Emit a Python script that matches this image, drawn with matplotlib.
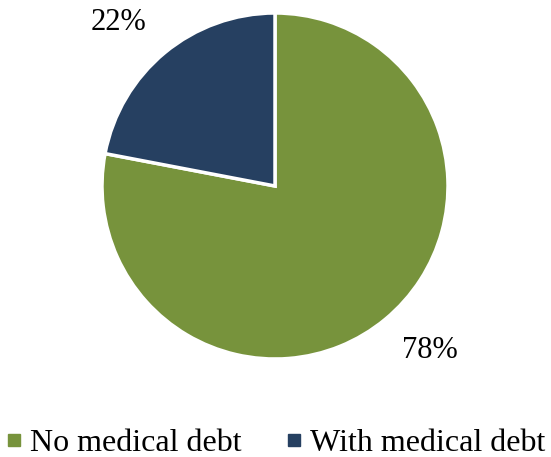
import matplotlib.pyplot as plt
from matplotlib.lines import Line2D

# Share of people with and without medical debt
labels = ["No medical debt", "With medical debt"]
shares = [78, 22]
colors = ["#77933C", "#264061"]

plt.rcParams["font.family"] = ["Liberation Serif", "DejaVu Serif"]

fig = plt.figure(figsize=(5.51, 4.57), dpi=100)
ax = fig.add_axes([0, 0, 1, 1])

ax.pie(
    shares,
    colors=colors,
    startangle=90,
    counterclock=False,
    center=(275, 271),
    radius=173,
    wedgeprops=dict(edgecolor="white", linewidth=2.5),
    frame=True,
)
ax.set_xlim(0, 551)
ax.set_ylim(0, 457)
ax.set_aspect("equal")
ax.axis("off")

# Percentage labels placed outside the slices
ax.text(118, 435, f"{shares[1]}%", fontsize=22, ha="center", va="center")
ax.text(430, 107, f"{shares[0]}%", fontsize=22, ha="center", va="center")

handles = [
    Line2D([], [], marker="s", linestyle="none", markersize=8.5,
           markerfacecolor=c, markeredgecolor=c)
    for c in colors
]
ax.legend(handles, labels, loc="center", bbox_to_anchor=(0.5, 14 / 457),
          ncol=2, frameon=False, fontsize=23, handletextpad=0.25,
          columnspacing=1.4, handlelength=0.5, borderaxespad=0,
          borderpad=0)

fig.savefig("out.png", dpi=100)
